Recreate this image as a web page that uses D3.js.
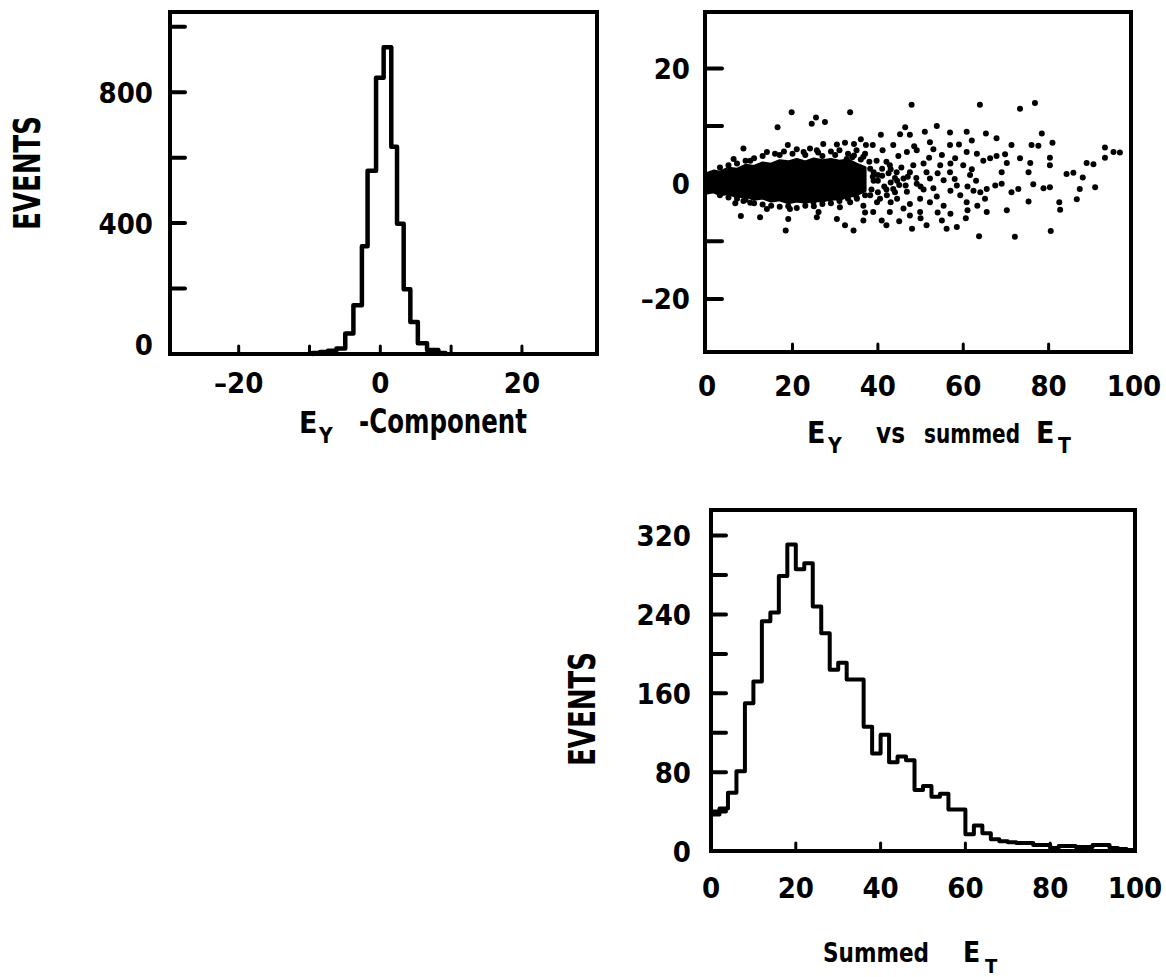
<!DOCTYPE html>
<html>
<head>
<meta charset="utf-8">
<script src="https://cdn.jsdelivr.net/npm/d3@7"></script>
<style>
  body { margin: 0; background: #fff; }
  svg { display: block; }
</style>
</head>
<body>
<svg id="chart" width="1166" height="977"></svg>
<script>
(function() {
  'use strict';

  // E_Y component histogram (bin edges, events per bin)
  var eyEdges = [-9.6, -8.5, -7.4, -6.2, -4.95, -3.8, -2.6, -1.8, -0.6, 0.47, 1.55, 2.36, 3.3, 4.24, 5.3, 6.6, 8.2, 9.2];
  var eyCounts = [3, 6, 10, 17, 63, 149, 329, 560, 844, 937, 633, 398, 198, 98, 33, 12, 3];

  // summed E_T histogram, 2 GeV bins from 0 to 100
  var etBinWidth = 2;
  var etCounts = [37, 43, 59, 81, 150, 172, 233, 242, 279, 311,
                  286, 292, 248, 221, 184, 191, 174, 174, 126, 99,
                  118, 90, 96, 92, 62, 66, 55, 58, 42, 42,
                  17, 26, 18, 12, 10, 9, 8, 8, 6, 6,
                  3, 5, 5, 4, 4, 6, 6, 3, 2, 1];

  // E_Y vs summed E_T: dense core band (upper / lower edge) ...
  var coreEt = [0, 1.5, 3, 5, 7, 9, 11, 13, 15, 17, 19, 21, 23, 25, 27, 29, 31, 33, 35, 37];
  var coreTop = [1.8, 2.2, 2.0, 2.7, 2.5, 3.2, 3.0, 3.6, 3.4, 4.0, 3.8, 4.2, 3.8, 4.3, 4.0, 4.2, 3.9, 4.1, 3.4, 2.8];
  var coreBottom = [-1.6, -1.4, -1.9, -1.7, -2.3, -2.1, -2.7, -2.5, -3.0, -2.8, -3.3, -3.0, -3.2, -2.9, -3.0, -2.6, -2.7, -2.2, -1.9, -1.2];

  // ... and the separate events around it [E_T, E_Y]
  var scatterPoints = [
    [19.8,12.4],[33.5,12.4],[47.9,13.7],[63.9,13.7],[73.3,13.0],[76.8,14.0],[25.5,11.5],[24.5,10.4],
    [27.6,10.7],[16.5,9.8],[46.4,9.8],[40.7,8.5],[45.2,8.6],[47.5,8.5],[51.0,9.0],[53.8,10.0],
    [56.9,8.9],[60.8,9.0],[65.3,8.7],[67.8,7.9],[78.4,8.7],[80.9,7.1],[71.3,6.7],[76.0,6.7],
    [77.6,6.6],[93.2,6.3],[93.2,4.5],[95.2,5.5],[96.7,5.4],[8.5,6.1],[18.9,6.7],[27.2,6.9],
    [30.4,6.8],[32.3,7.1],[34.4,6.9],[36.0,7.7],[37.2,6.7],[38.8,6.7],[41.1,5.8],[43.6,6.7],
    [44.8,4.8],[46.8,5.5],[49.1,5.8],[52.2,7.2],[55.0,5.0],[56.9,6.7],[58.1,4.4],[60.8,5.5],
    [63.2,5.2],[64.7,4.0],[66.3,4.4],[67.8,4.8],[69.8,5.1],[70.2,3.6],[73.3,4.4],[75.7,3.6],
    [75.3,2.0],[80.3,3.2],[80.3,4.5],[84.2,1.7],[85.8,1.9],[88.0,1.1],[88.9,3.6],[90.5,3.4],
    [90.9,-0.6],[87.3,-0.9],[86.6,-2.7],[82.5,-3.2],[82.7,-4.5],[80.3,-0.6],[78.8,-0.8],[76.4,-0.1],
    [75.3,-3.1],[72.9,-0.9],[71.3,-1.5],[70.2,-4.6],[69.0,2.0],[69.0,0.0],[67.5,-0.3],[65.5,-0.9],
    [65.1,-2.6],[65.5,-4.9],[63.3,-3.8],[60.8,-3.2],[60.6,-6.0],[58.5,-7.5],[63.7,-9.1],[72.1,-9.2],
    [80.5,-8.2],[56.1,-7.8],[55.0,-6.4],[51.4,-7.2],[49.9,-4.9],[47.5,-5.5],[46.0,-4.3],[42.8,-4.9],
    [40.9,-6.4],[38.9,-4.9],[36.6,-6.4],[34.3,-8.1],[32.3,-7.2],[30.4,-6.1],[31.1,-4.1],[28.8,-2.6],
    [25.7,-5.8],[26.1,-4.9],[19.0,-6.1],[19.4,-4.4],[18.4,-8.1],[12.4,-5.8],[7.9,-5.6],[6.6,-3.4],
    [8.5,-3.0],[10.1,-3.3],[14.0,-4.4],[14.8,-2.6],[52.2,-3.2],[55.4,-3.8],[53.8,-2.2],[50.7,-1.0],
    [49.9,-2.6],[47.5,-3.5],[44.5,-2.6],[49.1,0.0],[52.2,0.9],[51.4,2.0],[55.4,0.6],[56.9,2.0],
    [58.5,-0.3],[59.3,-2.0],[61.6,1.5],[62.4,-1.2],[60.0,3.2],[54.6,3.2],[50.7,3.5],[48.3,3.2],
    [47.5,2.0],[46.0,0.9],[46.8,-1.4],[43.6,-0.9],[42.1,-2.0],[39.8,-3.2],[38.2,-2.0],[36.6,-3.8],
    [35.1,-2.6],[33.5,-3.2],[32.7,4.3],[34.4,4.9],[36.6,4.7],[39.7,4.0],[42.8,3.2],[44.4,2.0],
    [41.0,1.4],[38.2,2.6],[6.2,4.3],[10.1,4.0],[15.9,5.2],[22.6,5.5],[24.1,6.1],[25.7,5.8],
    [8.1,-2.0],[12.4,-2.0],[16.3,-2.0],[22.6,-2.6],[24.9,-3.2],
    [39.0,0.5],[40.0,1.5],[41.5,-0.5],[43.0,0.2],[44.0,1.0],[40.0,-1.5],[42.0,-1.0],[39.0,2.0],
    [43.0,2.5],[45.0,-0.2],
    // fuzz along the upper edge of the core
    [3,2.8],[5,3.2],[7,3.5],[9,4.0],[11,4.4],[13,4.8],[14,5.5],[17,5.0],[18,5.6],[20,5.2],[21,6.0],
    [23,5.0],[26,5.4],[27,4.8],[29,5.6],[30,5.0],[31,5.8],[33,5.2],[34,4.6],[35,5.8],[36,4.2],
    [37,5.2],[38,3.8],
    // fuzz along the lower edge of the core
    [3,-2.0],[5,-2.4],[7,-2.6],[9,-2.8],[11,-3.4],[13,-3.6],[15,-3.8],[17,-4.0],[19,-3.9],
    [21,-4.2],[23,-3.8],[25,-3.9],[27,-3.5],[29,-3.4],[31,-3.0],[33,-2.6],[35,-2.4],[37,-2.0],
    // clump just beyond the core and the middle region
    [38.5,-1.0],[40,0.5],[41,2.6],[42.5,1.8],[44.5,0.5],[45.5,2.8],[46.5,-0.3],[38.8,1.2],
    [42,3.8],[40.5,-2.6],[44,-1.5],[43,-3.2],[47,1.2],
    [49,1.0],[50,-0.5],[53,-0.8],[54,1.8],[57,-1.2],[58,0.8],[61,-0.5],[62,2.5],[63,0.5],
    [64,-1.5],[57,3.5],[52,4.5],[48.5,6.5],[53,6.0],[59,6.8],[62,7.5],[50,-6.0],[54,-5.0],
    [57,-5.2],[61,-4.6],[45,-6.5],[42,-7.2],[37,-5.0],[48,-7.8]
  ];

  // tick positions and labels
  var eyTicks = [-20, -10, 0, 10, 20];
  var eyTickLabels = [-20, 0, 20];
  var eventTicks1 = [200, 400, 600, 800, 1000];
  var eventLabels1 = [0, 400, 800];
  var etTicks = [20, 40, 60, 80];
  var etTickLabels = [0, 20, 40, 60, 80, 100];
  var eyScatterTicks = [-20, -10, 10, 20];
  var eyScatterLabels = [-20, 0, 20];
  var eventTicks3 = [40, 80, 120, 160, 200, 240, 280, 320];
  var eventLabels3 = [0, 80, 160, 240, 320];

  var FONT = "'DejaVu Sans Condensed','DejaVu Sans',sans-serif";
  var svg = d3.select("#chart");

  function fmt(v) { return v < 0 ? "\u2013" + Math.abs(v) : String(v); }

  function drawFrame(x, y) {
    var r = x.range(), ry = y.range();
    svg.append("rect")
      .attr("x", r[0]).attr("y", ry[1])
      .attr("width", r[1] - r[0]).attr("height", ry[0] - ry[1])
      .attr("fill", "none").attr("stroke", "#000").attr("stroke-width", 4);
  }

  function leftTicks(x, y, values, len) {
    svg.append("g").selectAll("line").data(values).enter().append("line")
      .attr("x1", x.range()[0]).attr("x2", x.range()[0] + len)
      .attr("y1", function(d) { return y(d); }).attr("y2", function(d) { return y(d); })
      .attr("stroke", "#000").attr("stroke-width", 4).attr("stroke-linecap", "round");
  }

  function bottomTicks(x, y, values, len) {
    svg.append("g").selectAll("line").data(values).enter().append("line")
      .attr("x1", function(d) { return x(d); }).attr("x2", function(d) { return x(d); })
      .attr("y1", y.range()[0]).attr("y2", y.range()[0] - len)
      .attr("stroke", "#000").attr("stroke-width", 3).attr("stroke-linecap", "round");
  }

  function yLabels(y, values, xRight, shiftMin) {
    svg.append("g").selectAll("text").data(values).enter().append("text")
      .attr("x", xRight)
      .attr("y", function(d) { return y(d) + 10.5 - (d === y.domain()[0] ? shiftMin : 0); })
      .attr("text-anchor", "end")
      .attr("font-family", FONT).attr("font-weight", "bold").attr("font-size", 29)
      .text(fmt);
  }

  function xLabels(x, values, baseline) {
    svg.append("g").selectAll("text").data(values).enter().append("text")
      .attr("x", function(d) { return x(d); })
      .attr("y", baseline)
      .attr("text-anchor", "middle")
      .attr("font-family", FONT).attr("font-weight", "bold").attr("font-size", 29)
      .text(fmt);
  }

  function word(txt, x, y, size, width) {
    var t = svg.append("text")
      .attr("x", x).attr("y", y)
      .attr("font-family", FONT).attr("font-weight", "bold").attr("font-size", size)
      .text(txt);
    if (width) t.attr("textLength", width).attr("lengthAdjust", "spacingAndGlyphs");
    return t;
  }

  function eventsLabel(cx, cy) {
    svg.append("text")
      .attr("transform", "translate(" + (cx + 13) + "," + cy + ") rotate(-90)")
      .attr("text-anchor", "middle")
      .attr("font-family", FONT).attr("font-weight", "bold").attr("font-size", 37)
      .attr("textLength", 114).attr("lengthAdjust", "spacingAndGlyphs")
      .text("EVENTS");
  }

  function stepPoints(edges, counts) {
    var pts = [[edges[0], 0]];
    counts.forEach(function(c, i) {
      pts.push([edges[i], c]);
      pts.push([edges[i + 1], c]);
    });
    pts.push([edges[edges.length - 1], 0]);
    return pts;
  }

  function histLine(x, y, pts, width) {
    var line = d3.line()
      .x(function(d) { return x(d[0]); })
      .y(function(d) { return y(d[1]); });
    svg.append("path")
      .attr("d", line(pts))
      .attr("fill", "none").attr("stroke", "#000").attr("stroke-width", width)
      .attr("stroke-linejoin", "round").attr("stroke-linecap", "round");
  }

  // ---- panel 1: E_Y component ----
  var x1 = d3.scaleLinear().domain([-29.7, 30.6]).range([170, 597]);
  var y1 = d3.scaleLinear().domain([0, 1045]).range([354, 12]);
  histLine(x1, y1, stepPoints(eyEdges, eyCounts), 4.5);
  drawFrame(x1, y1);
  leftTicks(x1, y1, eventTicks1, 15);
  bottomTicks(x1, y1, eyTicks, 8);
  yLabels(y1, eventLabels1, 153, 10);
  xLabels(x1, eyTickLabels, 393);
  eventsLabel(27, 173);
  word("E", 299, 433, 30);
  word("Y", 319, 443, 21);
  word("-Component", 359, 433, 33, 168);

  // ---- panel 2: E_Y vs summed E_T ----
  var x2 = d3.scaleLinear().domain([-0.5, 99.3]).range([705, 1131]);
  var y2 = d3.scaleLinear().domain([-29.2, 29.8]).range([352, 12]);
  var coreRows = coreEt.map(function(e, i) { return [e, coreTop[i], coreBottom[i]]; });
  svg.append("path")
    .attr("d", d3.area()
      .x(function(d) { return x2(d[0]); })
      .y0(function(d) { return y2(d[2]); })
      .y1(function(d) { return y2(d[1]); })(coreRows))
    .attr("fill", "#000").attr("stroke", "#000").attr("stroke-width", 3)
    .attr("stroke-linejoin", "round");
  svg.append("g").selectAll("circle").data(scatterPoints).enter().append("circle")
    .attr("cx", function(d) { return x2(d[0]); })
    .attr("cy", function(d) { return y2(d[1]); })
    .attr("r", 3)
    .attr("fill", "#000");
  drawFrame(x2, y2);
  leftTicks(x2, y2, eyScatterTicks, 17);
  bottomTicks(x2, y2, etTicks, 8);
  yLabels(y2, eyScatterLabels, 690, 0);
  xLabels(x2, etTickLabels, 396);
  word("E", 807, 443, 30);
  word("Y", 828, 453, 21);
  word("vs", 876, 443, 28, 29);
  word("summed", 924, 443, 26, 96);
  word("E", 1036, 443, 30);
  word("T", 1058, 453, 21);

  // ---- panel 3: summed E_T ----
  var x3 = d3.scaleLinear().domain([0, 100]).range([711, 1135]);
  var y3 = d3.scaleLinear().domain([0, 346]).range([851, 510]);
  var etEdges = d3.range(etCounts.length + 1).map(function(i) { return i * etBinWidth; });
  histLine(x3, y3, stepPoints(etEdges, etCounts), 4);
  drawFrame(x3, y3);
  leftTicks(x3, y3, eventTicks3, 15);
  bottomTicks(x3, y3, etTicks, 8);
  yLabels(y3, eventLabels3, 691, 0);
  xLabels(x3, etTickLabels, 898);
  eventsLabel(582, 709);
  word("Summed", 823, 962, 26, 106);
  word("E", 963, 962, 28);
  word("T", 985, 973, 20);
}());
</script>
</body>
</html>
